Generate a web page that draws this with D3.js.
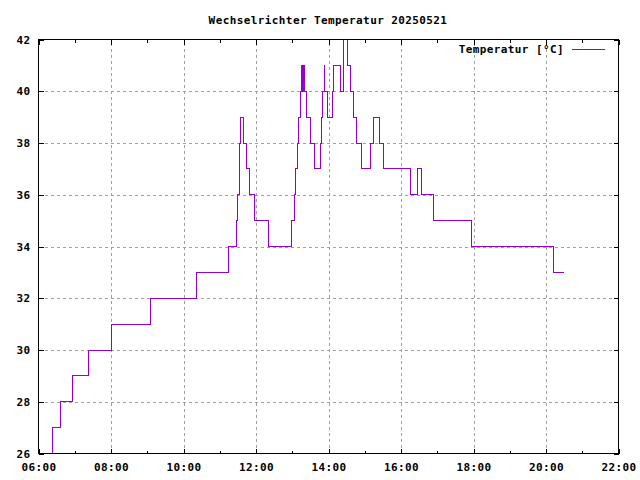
<!DOCTYPE html>
<html>
<head>
<meta charset="utf-8">
<script src="https://cdn.jsdelivr.net/npm/d3@7"></script>
<style>
  body { margin: 0; background: #fff; }
  svg text {
    font-family: "DejaVu Sans Mono", "Liberation Mono", monospace;
    font-weight: bold;
    font-size: 11px;
    letter-spacing: 0.4px;
    fill: #000;
  }
</style>
</head>
<body>
<div class="container"></div>
<script>
// data (time of change -> new temperature)
const day = "2025-05-21";
const times = ["06:22", "06:23", "06:37", "06:56", "07:22", "08:00", "09:05", "10:22",
  "11:14", "11:27", "11:29", "11:32", "11:33", "11:35", "11:40", "11:44", "11:49", "11:57",
  "12:20", "12:59", "13:03", "13:05", "13:08", "13:11", "13:14", "13:16", "13:17", "13:18",
  "13:20", "13:24", "13:30", "13:36", "13:46", "13:48", "13:50", "13:53", "13:54", "13:58",
  "14:07", "14:09", "14:20", "14:24", "14:31", "14:37", "14:41", "14:46", "14:54", "15:10",
  "15:14", "15:24", "15:31", "16:16", "16:27", "16:34", "16:54", "17:56", "20:12", "20:30"];
const temps = [26, 27, 28, 29, 30, 31, 32, 33,
  34, 35, 36, 37, 38, 39, 38, 37, 36, 35,
  34, 35, 36, 37, 38, 39, 40, 41, 40, 41,
  40, 39, 38, 37, 38, 39, 40, 41, 40, 39,
  40, 41, 40, 42, 41, 40, 39, 38, 37, 38,
  39, 38, 37, 36, 37, 36, 35, 34, 33, 33];
const yTicks = [26, 28, 30, 32, 34, 36, 38, 40, 42];
const xTicks = ["06:00", "08:00", "10:00", "12:00", "14:00", "16:00", "18:00", "20:00", "22:00"];
const title = "Wechselrichter Temperatur 20250521";
const seriesName = "Temperatur [°C]";

const width = 640;
const height = 480;
const margin = { top: 39.5, right: 21.5, bottom: 26.5, left: 38.5 };

const parseTime = d3.timeParse("%Y-%m-%d %H:%M");
const data = times.map((t, i) => ({ t: parseTime(day + " " + t), v: temps[i] }));
const xTickDates = xTicks.map(t => parseTime(day + " " + t));

const svg = d3.select(".container")
  .append("svg")
  .attr("width", width)
  .attr("height", height);

const xScale = d3.scaleTime()
  .domain([xTickDates[0], xTickDates[xTickDates.length - 1]])
  .range([margin.left, width - margin.right]);

const yScale = d3.scaleLinear()
  .domain([26, 42])
  .range([height - margin.bottom, margin.top]);

const plotW = width - margin.left - margin.right;
const plotH = height - margin.top - margin.bottom;

// grid lines
svg.append("g")
  .attr("transform", `translate(0, ${height - margin.bottom})`)
  .call(d3.axisBottom(xScale).tickValues(xTickDates.slice(1, -1)).tickSize(-plotH).tickFormat(""))
  .call(g => g.select(".domain").remove())
  .selectAll("line")
  .attr("stroke", "#a0a0a0")
  .attr("stroke-dasharray", "3,3")
  .attr("shape-rendering", "crispEdges");

svg.append("g")
  .attr("transform", `translate(${margin.left}, 0)`)
  .call(d3.axisLeft(yScale).tickValues(yTicks.slice(1, -1)).tickSize(-plotW).tickFormat(""))
  .call(g => g.select(".domain").remove())
  .selectAll("line")
  .attr("stroke", "#a0a0a0")
  .attr("stroke-dasharray", "3,3")
  .attr("shape-rendering", "crispEdges");

// temperature line
const line = d3.line()
  .x(d => xScale(d.t))
  .y(d => yScale(d.v))
  .curve(d3.curveStepAfter);

svg.append("path")
  .datum(data)
  .attr("d", line)
  .attr("fill", "none")
  .attr("stroke", "#9400d3")
  .attr("stroke-width", 1)
  .attr("shape-rendering", "crispEdges");

// border
svg.append("rect")
  .attr("x", margin.left)
  .attr("y", margin.top)
  .attr("width", plotW)
  .attr("height", plotH)
  .attr("fill", "none")
  .attr("stroke", "#000")
  .attr("shape-rendering", "crispEdges");

// hourly minor ticks on bottom and top
const minorHours = d3.timeHour.every(1).range(xTickDates[0], xTickDates[xTickDates.length - 1])
  .filter(d => d.getHours() % 2 === 1);

function styleAxis(g) {
  g.select(".domain").remove();
  g.selectAll("line").attr("stroke", "#000").attr("shape-rendering", "crispEdges");
}

svg.append("g")
  .attr("transform", `translate(0, ${height - margin.bottom})`)
  .call(d3.axisBottom(xScale).tickValues(minorHours).tickSize(-3).tickFormat(""))
  .call(styleAxis);
svg.append("g")
  .attr("transform", `translate(0, ${margin.top})`)
  .call(d3.axisTop(xScale).tickValues(minorHours).tickSize(-3).tickFormat(""))
  .call(styleAxis);

// major ticks + labels
svg.append("g")
  .attr("transform", `translate(0, ${height - margin.bottom})`)
  .call(d3.axisBottom(xScale).tickValues(xTickDates).tickSize(-5).tickPadding(9.5)
    .tickFormat(d3.timeFormat("%H:%M")))
  .call(styleAxis)
  .call(g => g.selectAll("text").attr("font-size", null).attr("font-family", null));

svg.append("g")
  .attr("transform", `translate(0, ${margin.top})`)
  .call(d3.axisTop(xScale).tickValues(xTickDates).tickSize(-5).tickFormat(""))
  .call(styleAxis);

svg.append("g")
  .attr("transform", `translate(${margin.left}, 0)`)
  .call(d3.axisLeft(yScale).tickValues(yTicks).tickSize(-5).tickPadding(8))
  .call(styleAxis)
  .call(g => g.selectAll("text").attr("font-size", null).attr("font-family", null));

svg.append("g")
  .attr("transform", `translate(${width - margin.right}, 0)`)
  .call(d3.axisRight(yScale).tickValues(yTicks).tickSize(-5).tickFormat(""))
  .call(styleAxis);

// remove default font attrs from axis groups so the css font applies
svg.selectAll("g").attr("font-size", null).attr("font-family", null);

// title
svg.append("text")
  .attr("x", 328)
  .attr("y", 24)
  .attr("text-anchor", "middle")
  .text(title);

// legend
svg.append("text")
  .attr("x", 564)
  .attr("y", 53)
  .attr("text-anchor", "end")
  .text(seriesName);

svg.append("line")
  .attr("x1", 572)
  .attr("x2", 605)
  .attr("y1", 49.5)
  .attr("y2", 49.5)
  .attr("stroke", "#9400d3")
  .attr("shape-rendering", "crispEdges");
</script>
</body>
</html>
